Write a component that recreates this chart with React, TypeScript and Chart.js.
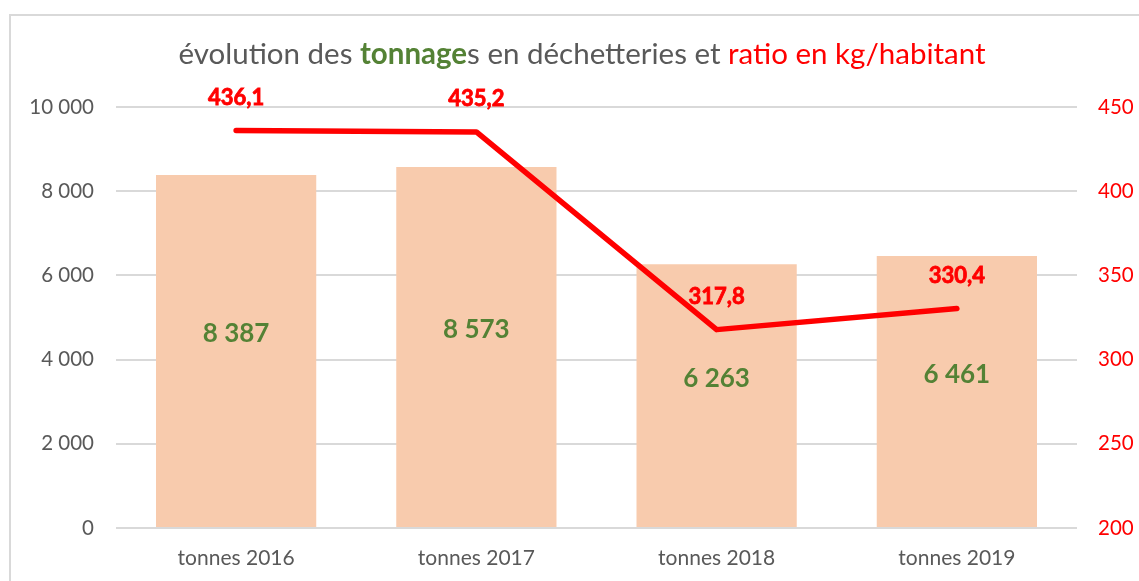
import React, { useEffect, useRef } from "react";
import { Chart, registerables } from "chart.js";
Chart.register(...registerables);

const categories = ["tonnes 2016", "tonnes 2017", "tonnes 2018", "tonnes 2019"];
const tonnages = [8387, 8573, 6263, 6461];
const ratios = [436.1, 435.2, 317.8, 330.4];
const leftTicks = [0, 2000, 4000, 6000, 8000, 10000];
const rightTicks = [200, 250, 300, 350, 400, 450];
const titleParts = [
  { text: "évolution des ", color: "#595959", bold: false },
  { text: "tonnage", color: "#548235", bold: true },
  { text: "s en déchetteries et ", color: "#595959", bold: false },
  { text: "ratio en kg/habitant", color: "#FF0000", bold: false },
];

const FONT = "Lato, 'Open Sans', sans-serif";
const fmtThousands = (v: number) => {
  const s = Math.round(v).toString();
  return s.replace(/\B(?=(\d{3})+(?!\d))/g, " ");
};
const fmtDec = (v: number) => v.toFixed(1).replace(".", ",");

const overlay = {
  id: "overlay",
  afterDatasetsDraw(chart: any) {
    const ctx = chart.ctx;
    ctx.save();
    const barMeta = chart.getDatasetMeta(0);
    ctx.font = `bold 26px ${FONT}`;
    ctx.fillStyle = "#548235";
    ctx.textAlign = "center";
    ctx.textBaseline = "middle";
    barMeta.data.forEach((el: any, i: number) => {
      const y = (el.y + el.base) / 2 - 17;
      ctx.fillText(fmtThousands(tonnages[i]), el.x, y);
    });
    const lineMeta = chart.getDatasetMeta(1);
    ctx.font = `bold 22px ${FONT}`;
    ctx.fillStyle = "#FF0000";
    ctx.strokeStyle = "#FF0000";
    ctx.lineWidth = 0.8;
    lineMeta.data.forEach((el: any, i: number) => {
      const t = fmtDec(ratios[i]);
      ctx.strokeText(t, el.x, el.y - 33);
      ctx.fillText(t, el.x, el.y - 33);
    });
    ctx.restore();
  },
  afterDraw(chart: any) {
    const ctx = chart.ctx;
    ctx.save();
    ctx.textBaseline = "middle";
    ctx.textAlign = "left";
    const size = 29.5;
    const widths = titleParts.map((p) => {
      ctx.font = `${p.bold ? "bold " : ""}${size}px ${FONT}`;
      return ctx.measureText(p.text).width;
    });
    const total = widths.reduce((a, b) => a + b, 0);
    let x = 582 - total / 2;
    titleParts.forEach((p, i) => {
      ctx.font = `${p.bold ? "bold " : ""}${size}px ${FONT}`;
      ctx.fillStyle = p.color;
      ctx.fillText(p.text, x, 54);
      x += widths[i];
    });
    ctx.restore();
  },
};

export default function App() {
  const ref = useRef<HTMLCanvasElement | null>(null);
  useEffect(() => {
    if (!ref.current) return;
    const chart = new Chart(ref.current, {
      type: "bar",
      data: {
        labels: categories,
        datasets: [
          {
            type: "bar",
            data: tonnages,
            backgroundColor: "#F8CBAD",
            yAxisID: "y",
            barPercentage: 0.667,
            categoryPercentage: 1,
            order: 2,
          },
          {
            type: "line",
            data: ratios,
            borderColor: "#FF0000",
            borderWidth: 5.5,
            borderCapStyle: "round",
            borderJoinStyle: "round",
            pointRadius: 0,
            yAxisID: "y1",
            order: 1,
          } as any,
        ],
      },
      options: {
        animation: false,
        responsive: false,
        layout: { padding: { top: 107, bottom: 0, left: 0, right: 0 } },
        plugins: { legend: { display: false }, tooltip: { enabled: false }, title: { display: false } },
        scales: {
          x: {
            grid: { display: false },
            border: { display: false },
            ticks: { color: "#595959", font: { family: FONT, size: 21 }, padding: 10 },
            afterFit: (s: any) => { s.height = 53; },
          },
          y: {
            position: "left",
            min: 0,
            max: 10000,
            afterBuildTicks: (s: any) => { s.ticks = leftTicks.map((v) => ({ value: v })); },
            grid: { color: "#D9D9D9", lineWidth: 2, drawTicks: false },
            border: { display: false },
            ticks: {
              color: "#595959",
              font: { family: FONT, size: 20.5 },
              padding: 22,
              callback: (v: any) => fmtThousands(Number(v)),
            },
            afterFit: (s: any) => { s.width = 116; },
          },
          y1: {
            position: "right",
            min: 200,
            max: 450,
            afterBuildTicks: (s: any) => { s.ticks = rightTicks.map((v) => ({ value: v })); },
            grid: { display: false, drawTicks: false },
            border: { display: false },
            ticks: { color: "#FF0000", font: { family: FONT, size: 20.5 }, padding: 21 },
            afterFit: (s: any) => { s.width = 62; },
          },
        },
      },
      plugins: [overlay],
    });
    return () => chart.destroy();
  }, []);
  return (
    <div style={{ position: "absolute", left: 0, top: 0, width: 1139, height: 581, overflow: "hidden", background: "#fff" }}>
      <div style={{ position: "absolute", left: 9, top: 14, width: 1200, height: 700, border: "2px solid #D9D9D9", boxSizing: "border-box" }} />
      <canvas ref={ref} width={1139} height={581} style={{ position: "absolute", left: 0, top: 0 }} />
    </div>
  );
}
